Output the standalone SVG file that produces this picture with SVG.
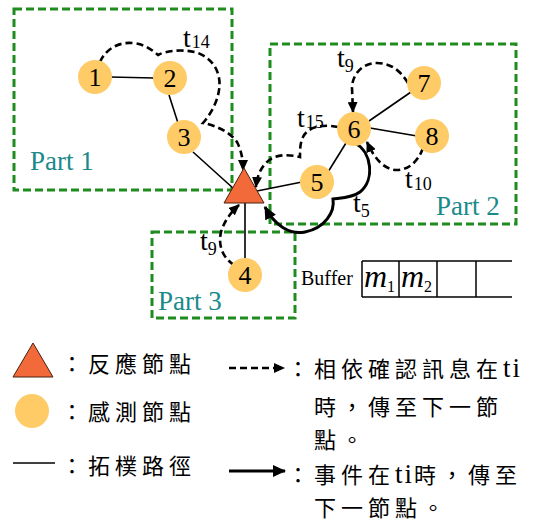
<svg xmlns="http://www.w3.org/2000/svg" width="537" height="522" viewBox="0 0 537 522">
  <style>
    .part { fill: none; stroke: #1f8c1f; stroke-width: 3; stroke-dasharray: 8 4; }
    .plabel { font-family: "Liberation Serif", serif; font-size: 27px; fill: #1a8a8a; }
    .sensor { fill: #fecb67; }
    .num { font-family: "Liberation Serif", serif; font-size: 26px; fill: #000; text-anchor: middle; }
    .topo { stroke: #000; stroke-width: 1.6; fill: none; }
    .ack { stroke: #000; stroke-width: 2.6; fill: none; stroke-dasharray: 7 4; marker-end: url(#headS); }
    .evt { stroke: #000; stroke-width: 3; fill: none; marker-end: url(#headL); }
    .t { font-family: "Liberation Serif", serif; font-size: 28px; fill: #000; }
    .sub { font-size: 18px; }
    .cjk { font-family: "Liberation Serif", "Noto Sans CJK TC", serif; font-size: 22px; fill: #000; }
    .sp { letter-spacing: 5px; }
    .ti { font-size: 27px; letter-spacing: 2px; }
    .buf { stroke: #000; stroke-width: 1.5; fill: none; }
  </style>
  <defs>
    <marker id="headS" markerUnits="userSpaceOnUse" markerWidth="11" markerHeight="10" refX="10" refY="5" orient="auto">
      <path d="M0,0 L11,5 L0,10 z" fill="#000"/>
    </marker>
    <marker id="headL" markerUnits="userSpaceOnUse" markerWidth="13" markerHeight="12" refX="12" refY="6" orient="auto">
      <path d="M0,0 L13,6 L0,12 z" fill="#000"/>
    </marker>
  </defs>

  <!-- partitions -->
  <g id="parts">
    <rect class="part" x="14" y="9" width="218" height="181"/>
    <rect class="part" x="270" y="44" width="246" height="180"/>
    <rect class="part" x="152" y="232" width="143" height="86"/>
    <text class="plabel" x="30" y="170">Part 1</text>
    <text class="plabel" x="436" y="215">Part 2</text>
    <text class="plabel" x="158" y="310">Part 3</text>
  </g>

  <!-- topology links and message paths -->
  <g id="connectors">
    <line class="topo" x1="110" y1="77" x2="154" y2="78"/>
    <line class="topo" x1="169" y1="95" x2="178" y2="123"/>
    <line class="topo" x1="193" y1="152" x2="234" y2="189"/>
    <line class="topo" x1="257" y1="191" x2="302" y2="182"/>
    <line class="topo" x1="328" y1="172" x2="346" y2="143"/>
    <line class="topo" x1="369" y1="121" x2="411" y2="92"/>
    <line class="topo" x1="370" y1="128" x2="417" y2="136"/>
    <line class="topo" x1="245" y1="258" x2="245" y2="203"/>

    <path class="ack" d="M100,62 C106,48 120,42 132,43 C145,44 152,50 158,55 C165,51 180,49 195,52 C212,57 222,72 219,90 C217,105 208,117 203,123 C215,125 230,132 237,142 C241,150 243,158 243,170"/>
    <path class="ack" d="M338,127 C325,124 308,126 303,137 C300,143 300,150 300,157 C288,154 274,154 266,163 C260,169 257,177 256,187"/>
    <path class="ack" d="M408,83 C400,70 390,63 377,63 C362,63 352,75 352,88 L353,112"/>
    <path class="ack" d="M423,148 C418,162 408,170 397,170 C385,170 375,160 367,142"/>
    <path class="ack" d="M234,265 C222,257 218,245 221,232 C224,222 230,213 239,205"/>
    <path class="evt" d="M355,143 C372,152 375,180 360,192 C352,198 340,198 333,199 C335,212 325,228 305,232 C290,235 275,226 265,207"/>
  </g>

  <!-- message time labels -->
  <g id="labels">
    <text class="t" x="183" y="47">t<tspan class="sub" dx="1" dy="1">14</tspan></text>
    <text class="t" x="297" y="127">t<tspan class="sub" dx="1" dy="1">15</tspan></text>
    <text class="t" x="337" y="67">t<tspan class="sub" dy="5">9</tspan></text>
    <text class="t" x="405" y="188">t<tspan class="sub" dx="1" dy="2">10</tspan></text>
    <text class="t" x="353" y="212">t<tspan class="sub" dy="5">5</tspan></text>
    <text class="t" x="200" y="250">t<tspan class="sub" dy="5">9</tspan></text>
  </g>

  <!-- response node -->
  <g id="response">
    <polygon points="244,168 224,203 264,203" fill="#f26a3a" stroke="#4a2010" stroke-width="1"/>
  </g>

  <!-- sensor nodes -->
  <g id="node1"><circle class="sensor" cx="95" cy="77" r="17"/><text class="num" x="95" y="86">1</text></g>
  <g id="node2"><circle class="sensor" cx="170" cy="78" r="17"/><text class="num" x="170" y="87">2</text></g>
  <g id="node3"><circle class="sensor" cx="184" cy="137" r="17"/><text class="num" x="184" y="146">3</text></g>
  <g id="node4"><circle class="sensor" cx="245" cy="275" r="17"/><text class="num" x="245" y="284">4</text></g>
  <g id="node5"><circle class="sensor" cx="317" cy="182" r="17"/><text class="num" x="317" y="191">5</text></g>
  <g id="node6"><circle class="sensor" cx="354" cy="129" r="17"/><text class="num" x="354" y="138">6</text></g>
  <g id="node7"><circle class="sensor" cx="424" cy="83" r="17"/><text class="num" x="424" y="92">7</text></g>
  <g id="node8"><circle class="sensor" cx="432" cy="136" r="17"/><text class="num" x="432" y="145">8</text></g>

  <!-- buffer -->
  <g id="buffer">
    <text x="301" y="285" font-family="Liberation Serif, serif" font-size="20">Buffer</text>
    <line class="buf" x1="362" y1="261" x2="512" y2="261" stroke="#777"/>
    <line class="buf" x1="362" y1="297" x2="512" y2="297"/>
    <line class="buf" x1="362" y1="261" x2="362" y2="297"/>
    <line class="buf" x1="399" y1="261" x2="399" y2="297"/>
    <line class="buf" x1="437" y1="261" x2="437" y2="297"/>
    <line class="buf" x1="476" y1="261" x2="476" y2="297"/>
    <text x="364" y="287" font-family="Liberation Serif, serif" font-size="32" font-style="italic">m<tspan font-size="16" font-style="normal" dy="5">1</tspan></text>
    <text x="401" y="287" font-family="Liberation Serif, serif" font-size="32" font-style="italic">m<tspan font-size="16" font-style="normal" dy="5">2</tspan></text>
  </g>

  <!-- legend -->
  <g id="legend">
    <polygon points="13,377 33,343 53,377" fill="#f26a3a" stroke="#4a2010" stroke-width="1"/>
    <text class="cjk sp" x="61" y="372">：反應節點</text>
    <circle class="sensor" cx="32" cy="411" r="17"/>
    <text class="cjk sp" x="61" y="420">：感測節點</text>
    <line x1="13" y1="463" x2="55" y2="463" stroke="#000" stroke-width="1.5"/>
    <text class="cjk sp" x="61" y="474">：拓樸路徑</text>

    <line x1="229" y1="368" x2="284" y2="368" stroke="#000" stroke-width="2.6" stroke-dasharray="7 4" marker-end="url(#headS)"/>
    <text class="cjk" x="287" y="377"><tspan class="sp">：相依確認訊息在</tspan><tspan class="ti">ti</tspan></text>
    <text class="cjk sp" x="314" y="415">時，傳至下一節</text>
    <text class="cjk sp" x="314" y="448">點。</text>
    <line x1="229" y1="471" x2="285" y2="471" stroke="#000" stroke-width="3" marker-end="url(#headL)"/>
    <text class="cjk" x="287" y="483"><tspan class="sp">：事件在</tspan><tspan class="ti">ti</tspan><tspan class="sp">時，傳至</tspan></text>
    <text class="cjk sp" x="314" y="516">下一節點。</text>
  </g>
</svg>
